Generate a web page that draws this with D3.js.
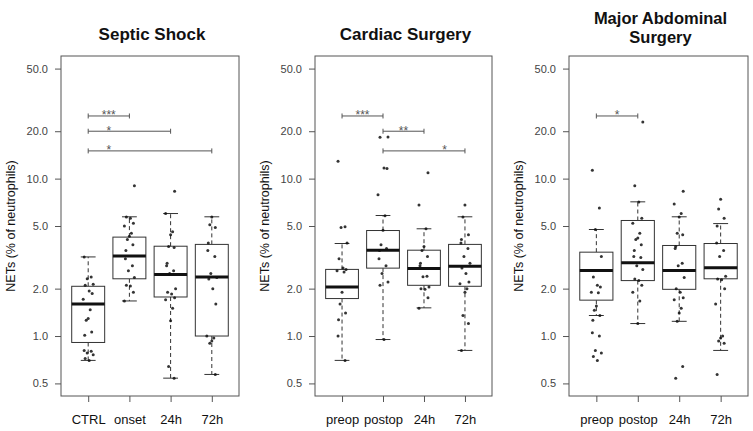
<!DOCTYPE html>
<html>
<head>
<meta charset="utf-8">
<script src="https://cdn.jsdelivr.net/npm/d3@7"></script>
<style>
  body { margin: 0; background: #fff; }
  svg { display: block; font-family: "Liberation Sans", Arial, sans-serif; }
</style>
</head>
<body>
<svg id="chart" width="753" height="431"></svg>
<script>
// ---- data ----
const yTicks = [0.5, 1, 2, 5, 10, 20, 50];
const yLabel = "NETs (% of neutrophils)";

const septicGroups = ["CTRL", "onset", "24h", "72h"];
const surgeryGroups = ["preop", "postop", "24h", "72h"];

// box stats: [lower whisker, q1, median, q3, upper whisker]
const septicStats = [
  [0.70, 0.91, 1.60, 2.07, 3.18],
  [1.67, 2.31, 3.22, 4.25, 5.72],
  [0.54, 1.77, 2.46, 3.72, 6.00],
  [0.57, 1.00, 2.37, 3.82, 5.72]
];
const septicPoints = [
  [3.18, 2.37, 2.31, 2.13, 2.10, 1.93, 1.86, 1.71, 1.47, 1.29, 1.26, 1.06, 1.01, 0.81, 0.80, 0.78, 0.76, 0.72, 0.70],
  [9.0, 5.7, 5.6, 5.2, 5.0, 4.5, 4.3, 4.1, 3.8, 3.5, 3.1, 2.8, 2.6, 2.35, 2.1, 2.08, 1.9, 1.67],
  [8.3, 6.0, 4.6, 4.4, 3.7, 3.65, 2.9, 2.8, 2.6, 2.5, 2.0, 1.9, 1.85, 1.75, 1.7, 1.5, 1.25, 0.64, 0.54],
  [5.7, 5.1, 4.9, 3.9, 3.5, 3.2, 2.5, 2.35, 2.3, 2.0, 1.6, 1.0, 0.97, 0.93, 0.9, 0.57]
];
// [from, to, label, y value, label at]
const septicSig = [[1, 2, "***", 25, 1.5], [1, 3, "*", 20, 1.5], [1, 4, "*", 15, 1.5]];

const cardiacStats = [
  [0.70, 1.73, 2.05, 2.65, 3.87],
  [0.95, 2.70, 3.51, 4.68, 5.83],
  [1.51, 2.10, 2.69, 3.51, 4.80],
  [0.81, 2.07, 2.78, 3.82, 5.72]
];
const cardiacPoints = [
  [12.9, 4.95, 4.9, 3.9, 3.1, 2.7, 2.65, 2.6, 2.55, 1.9, 1.6, 1.4, 1.27, 1.0, 0.7],
  [18.4, 18.3, 11.7, 11.6, 7.9, 5.8, 4.7, 3.8, 3.6, 3.5, 3.1, 2.8, 2.5, 2.2, 2.1, 0.95],
  [10.9, 6.8, 4.8, 3.7, 3.5, 3.2, 2.9, 2.8, 2.4, 2.38, 2.05, 2.0, 1.98, 1.75, 1.5],
  [6.8, 5.7, 4.4, 4.1, 3.9, 3.6, 3.2, 2.9, 2.7, 2.5, 2.2, 2.15, 2.0, 1.9, 1.35, 1.2, 0.81]
];
const cardiacSig = [[1, 2, "***", 25, 1.5], [2, 3, "**", 20, 2.5], [2, 4, "*", 15, 3.5]];

const abdominalStats = [
  [1.35, 1.69, 2.61, 3.41, 4.75],
  [1.20, 2.25, 2.92, 5.42, 7.12],
  [1.24, 1.98, 2.61, 3.76, 5.72],
  [0.81, 2.31, 2.71, 3.87, 5.18]
];
const abdominalPoints = [
  [11.3, 6.5, 4.75, 3.2, 2.37, 2.1, 2.05, 1.9, 1.88, 1.55, 1.46, 1.35, 1.26, 1.05, 1.0, 0.81, 0.78, 0.74, 0.70],
  [22.9, 9.0, 7.1, 5.6, 5.2, 4.5, 4.2, 4.1, 3.8, 3.5, 3.2, 3.15, 2.8, 2.65, 2.3, 2.25, 2.1, 1.9, 1.67, 1.2],
  [8.3, 6.9, 6.0, 5.7, 4.5, 4.4, 3.7, 3.6, 2.9, 2.8, 2.35, 2.0, 1.9, 1.75, 1.7, 1.5, 1.4, 1.24, 0.64, 0.54],
  [7.4, 6.4, 5.6, 5.0, 3.9, 3.5, 3.2, 2.4, 2.3, 2.28, 2.0, 1.6, 1.0, 0.97, 0.93, 0.9, 0.57]
];
const abdominalSig = [[1, 2, "*", 25, 1.5]];

// ---- layout ----
const panels = [
  {title: ["Septic Shock"], groups: septicGroups, stats: septicStats, points: septicPoints, sig: septicSig, left: 61, right: 239},
  {title: ["Cardiac Surgery"], groups: surgeryGroups, stats: cardiacStats, points: cardiacPoints, sig: cardiacSig, left: 315, right: 492},
  {title: ["Major Abdominal", "Surgery"], groups: surgeryGroups, stats: abdominalStats, points: abdominalPoints, sig: abdominalSig, left: 569, right: 748}
];
const plotTop = 56, plotBottom = 396;
// fixed jitter pattern (px) for the strip points
const jitter = [-4, 3, -1, 5, -3, 1, 4, -5, 2, 0, -2, 3.5, -3.5];

const svg = d3.select("#chart");

// R style: range [0.5, 50] padded 4% on log scale
const pad = 0.04 * 2;
const y = d3.scaleLog()
  .domain([0.5 / Math.pow(10, pad), 50 * Math.pow(10, pad)])
  .range([plotBottom, plotTop]);

panels.forEach(p => {
  const x = d3.scaleLinear().domain([0.34, 4.66]).range([p.left, p.right]);
  const bw = (x(1.4) - x(0.6)) / 2;
  const cap = bw * 0.45;
  const g = svg.append("g");

  // title (one text per line)
  const cxTitle = (p.left + p.right) / 2 + 2;
  const twoLines = p.title.length > 1;
  g.selectAll("text.title")
    .data(p.title)
    .join("text")
    .attr("class", "title")
    .attr("x", cxTitle)
    .attr("y", (d, i) => twoLines ? 24 + i * 19 : 40)
    .attr("text-anchor", "middle")
    .attr("font-size", twoLines ? 16.5 : 17)
    .attr("font-weight", "bold")
    .attr("fill", "#111")
    .text(d => d);

  // y axis
  const ya = g.append("g")
    .attr("transform", `translate(${p.left},0)`)
    .call(d3.axisLeft(y).tickValues(yTicks).tickFormat(d3.format(".1f")).tickSize(6).tickPadding(7));
  ya.select(".domain").remove();
  ya.selectAll("line").attr("stroke", "#555");
  ya.selectAll("text").attr("font-size", 11).attr("fill", "#444").attr("font-family", null);

  // x axis
  const xa = g.append("g")
    .attr("transform", `translate(0,${plotBottom})`)
    .call(d3.axisBottom(x).tickValues([1, 2, 3, 4]).tickFormat(d => p.groups[d - 1]).tickSize(6).tickPadding(13));
  xa.select(".domain").remove();
  xa.selectAll("line").attr("stroke", "#555");
  xa.selectAll("text").attr("font-size", 13).attr("fill", "#111").attr("font-family", null);

  // y label
  g.append("text")
    .attr("transform", `translate(${p.left - 46},${(plotTop + plotBottom) / 2}) rotate(-90)`)
    .attr("text-anchor", "middle")
    .attr("font-size", 12.5)
    .attr("fill", "#111")
    .text(yLabel);

  // boxes
  p.stats.forEach((s, i) => {
    const cx = x(i + 1);
    const [lo, q1, med, q3, hi] = s;
    const bg = g.append("g").attr("stroke", "#333").attr("fill", "none");
    bg.append("line").attr("x1", cx).attr("x2", cx).attr("y1", y(q3)).attr("y2", y(hi))
      .attr("stroke-dasharray", "4,3");
    bg.append("line").attr("x1", cx).attr("x2", cx).attr("y1", y(q1)).attr("y2", y(lo))
      .attr("stroke-dasharray", "4,3");
    bg.append("line").attr("x1", cx - cap).attr("x2", cx + cap).attr("y1", y(hi)).attr("y2", y(hi));
    bg.append("line").attr("x1", cx - cap).attr("x2", cx + cap).attr("y1", y(lo)).attr("y2", y(lo));
    bg.append("rect")
      .attr("x", cx - bw).attr("width", 2 * bw)
      .attr("y", y(q3)).attr("height", y(q1) - y(q3))
      .attr("fill", "#fff");
    bg.append("line").attr("x1", cx - bw).attr("x2", cx + bw).attr("y1", y(med)).attr("y2", y(med))
      .attr("stroke", "#111").attr("stroke-width", 3);
  });

  // strip points
  p.points.forEach((pts, i) => {
    g.append("g")
      .selectAll("circle")
      .data(pts)
      .join("circle")
      .attr("cx", (d, j) => x(i + 1) + jitter[(j + i * 3) % jitter.length])
      .attr("cy", d => y(d))
      .attr("r", 1.5)
      .attr("fill", "#111")
      .attr("opacity", 0.85);
  });

  // significance brackets
  p.sig.forEach(([a, b, lab, v, at]) => {
    const yy = y(v);
    const sg = g.append("g").attr("stroke", "#555");
    sg.append("line").attr("x1", x(a)).attr("x2", x(b)).attr("y1", yy).attr("y2", yy);
    sg.append("line").attr("x1", x(a)).attr("x2", x(a)).attr("y1", yy - 2.5).attr("y2", yy + 2.5);
    sg.append("line").attr("x1", x(b)).attr("x2", x(b)).attr("y1", yy - 2.5).attr("y2", yy + 2.5);
    g.append("text")
      .attr("x", x(at)).attr("y", yy + 3.5)
      .attr("text-anchor", "middle")
      .attr("font-size", 12)
      .attr("fill", "#555")
      .text(lab);
  });

  // frame
  g.append("rect")
    .attr("x", p.left).attr("y", plotTop)
    .attr("width", p.right - p.left).attr("height", plotBottom - plotTop)
    .attr("fill", "none").attr("stroke", "#555");
});
</script>
</body>
</html>
